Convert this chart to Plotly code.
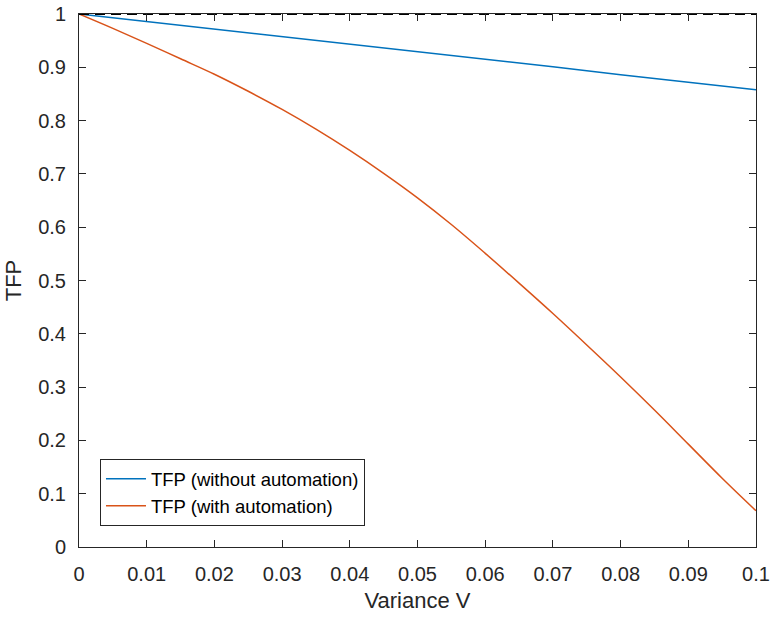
import plotly.graph_objects as go

# Data
v_blue = [0.0, 0.01, 0.02, 0.03, 0.04, 0.05, 0.06, 0.07, 0.08, 0.09, 0.1]
tfp_without = [1.0, 0.986, 0.972, 0.958, 0.943, 0.929, 0.915, 0.901, 0.886, 0.872, 0.858]

v_orange = [0.0, 0.005, 0.01, 0.015, 0.02, 0.025, 0.03, 0.035, 0.04, 0.045, 0.05,
            0.055, 0.06, 0.065, 0.07, 0.075, 0.08, 0.085, 0.09, 0.095, 0.1]
tfp_with = [1.0, 0.973, 0.945, 0.916, 0.887, 0.855, 0.821, 0.784, 0.744, 0.701, 0.655,
            0.605, 0.551, 0.495, 0.438, 0.379, 0.319, 0.257, 0.193, 0.129, 0.068]

ref_x = [0.0, 0.1]
ref_y = [1.0, 1.0]

x_ticks = [0, 0.01, 0.02, 0.03, 0.04, 0.05, 0.06, 0.07, 0.08, 0.09, 0.1]
x_labels = ["0", "0.01", "0.02", "0.03", "0.04", "0.05", "0.06", "0.07", "0.08", "0.09", "0.1"]
y_ticks = [0, 0.1, 0.2, 0.3, 0.4, 0.5, 0.6, 0.7, 0.8, 0.9, 1.0]
y_labels = ["0", "0.1", "0.2", "0.3", "0.4", "0.5", "0.6", "0.7", "0.8", "0.9", "1"]

AX = "#262626"
FONT = "Liberation Sans, Arial, sans-serif"

fig = go.Figure()
fig.add_trace(go.Scatter(x=v_blue, y=tfp_without, mode="lines",
                         line=dict(color="#0072BD", width=1.5),
                         name="TFP (without automation)"))
fig.add_trace(go.Scatter(x=v_orange, y=tfp_with, mode="lines", line_shape="spline",
                         line=dict(color="#D95319", width=1.5),
                         name="TFP (with automation)"))
fig.add_trace(go.Scatter(x=ref_x, y=ref_y, mode="lines",
                         line=dict(color="black", width=1.8, dash="10px,6px"),
                         showlegend=False, cliponaxis=False))

axis_common = dict(showgrid=False, zeroline=False, showline=True, linecolor=AX,
                   linewidth=1, mirror="ticks", ticks="inside", ticklen=7,
                   tickcolor=AX, tickwidth=1, automargin=False,
                   tickfont=dict(family=FONT, size=20, color=AX))

fig.update_xaxes(range=[0, 0.1], tickvals=x_ticks, ticktext=x_labels,
                 ticklabelstandoff=9,
                 title=dict(text="Variance V", standoff=8,
                            font=dict(family=FONT, size=22, color=AX)),
                 **axis_common)
fig.update_yaxes(range=[0, 1], tickvals=y_ticks, ticktext=y_labels,
                 ticklabelstandoff=8,
                 title=dict(text="TFP", standoff=10,
                            font=dict(family=FONT, size=22, color=AX)),
                 **axis_common)

fig.update_layout(
    width=772, height=618,
    margin=dict(l=79, r=16, t=14, b=71),
    plot_bgcolor="white", paper_bgcolor="white",
    legend=dict(x=0.031, y=0.039, xanchor="left", yanchor="bottom",
                bgcolor="white", bordercolor=AX, borderwidth=1,
                font=dict(family=FONT, size=18.5, color="black"),
                tracegroupgap=0, itemwidth=40),
)

fig.write_html("out.html")
